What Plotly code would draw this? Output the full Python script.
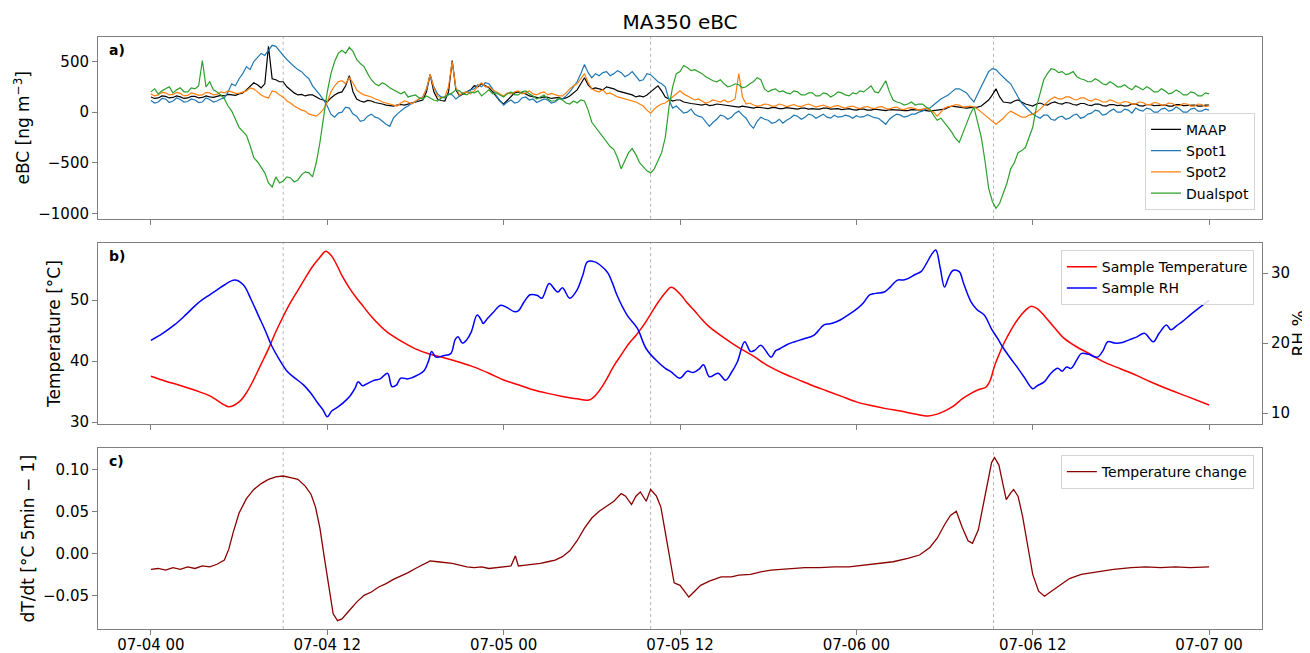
import pandas as pd
import plotly.graph_objects as go

START = "2024-07-04 00:00"
# eBC series, 15-min samples from 07-04 00:00 to 07-07 00:00 (12 values = 3 hours per row)
ebc_time = pd.date_range(START, periods=289, freq="15min")

maap = [150, 135, 140, 160, 155, 140, 145, 160, 150, 135, 140, 155,
        155, 140, 145, 160, 150, 145, 155, 165, 160, 175, 170, 165,
        180, 190, 220, 260, 290, 270, 240, 280, 650, 330, 320, 300,
        300, 250, 220, 190, 170, 175, 160, 170, 170, 150, 130, 120,
        100, 140, 170, 190, 200, 260, 360, 200, 130, 110, 100, 115,
        110, 95, 90, 80, 70, 65, 60, 70, 75, 70, 80, 90,
        100, 110, 120, 200, 370, 200, 130, 115, 110, 200, 510, 220,
        160, 180, 200, 220, 260, 250, 280, 260, 240, 200, 150, 110,
        80, 120, 150, 190, 200, 190, 180, 160, 150, 145, 140, 150,
        145, 135, 140, 145, 130, 140, 160, 190, 220, 280, 340, 270,
        230, 240, 230, 220, 250, 240, 230, 210, 200, 190, 180, 170,
        150, 160, 150, 170, 200, 230, 260, 210, 150, 130, 110, 120,
        120, 100, 90, 85, 80, 75, 70, 80, 65, 70, 80, 75,
        70, 60, 60, 55, 50, 60, 55, 45, 40, 50, 45, 40,
        35, 45, 45, 35, 35, 45, 40, 30, 30, 40, 40, 30,
        35, 30, 30, 40, 40, 30, 30, 35, 25, 30, 35, 25,
        20, 30, 30, 20, 20, 30, 25, 15, 15, 25, 25, 20,
        20, 15, 15, 25, 25, 20, 20, 15, 10, 15, 20, 25,
        30, 45, 60, 55, 50, 45, 40, 45, 45, 50, 60, 90,
        120, 170, 230, 150, 100, 95, 90, 110, 120, 100, 80, 70,
        60, 80, 90, 75, 70, 90, 100, 85, 80, 95, 90, 75,
        70, 85, 85, 70, 65, 80, 80, 65, 60, 75, 75, 65,
        70, 60, 65, 80, 80, 65, 60, 75, 75, 65, 65, 70,
        70, 60, 60, 75, 75, 65, 65, 70, 70, 60, 60, 70,
        70]

spot1 = [115, 90, 100, 135, 130, 95, 110, 140, 125, 100, 105, 130,
         120, 95, 100, 140, 125, 100, 110, 130, 140, 200, 280, 260,
         330, 380, 450, 420, 500, 540, 580, 560, 610, 660, 650, 600,
         560, 520, 480, 450, 420, 400, 360, 330, 260, 220, 170, 120,
         60, -20, -50, -10, 0, 50, 40, -20, -40, -90, -80, -40,
         -20, -50, -60, -90, -120, -140, -60, -20, 10, 40, 60, 90,
         100, 130, 150, 230, 370, 250, 180, 150, 140, 180, 170, 130,
         160, 190, 200, 220, 230, 270, 250, 290, 280, 230, 160, 110,
         70, 100, 120, 90, 100, 140, 150, 120, 130, 95, 110, 130,
         120, 90, 100, 130, 130, 160, 200, 250, 300, 380, 470, 390,
         340, 380, 360, 390, 400, 360, 380, 410, 390, 350, 370, 400,
         350, 310, 320, 380, 370, 330, 300, 280, 250, 120, 40, 60,
         20, -10, 0, 30, -20, -40, -50, -90, -140, -100, -70, -30,
         -40, -70, -50, -10, 10, -30, -60, -120, -160, -90, -50, -70,
         -80, -110, -100, -70, -110, -80, -60, -30, -40, -70, -50, -20,
         -30, -60, -40, -20, -50, -60, -30, -50, -45, -30, -40, -60,
         -35, -50, -45, -25, -40, -55, -60, -90, -120, -70, -40, -20,
         -30, -50, -40, -20, -20, 0, 10, 30, 40, 70, 100, 130,
         150, 170, 200, 230, 230, 210, 190, 140, 100, 180, 250, 330,
         400, 430, 420, 380, 340, 310, 280, 210, 150, 90, 50, 10,
         -20, -40, -60, -30, -30, -70, -80, -50, -40, -70, -60, -30,
         -20, -60, -50, -20, -10, 20, 10, -30, -20, 10, 30, 0,
         0, 30, 20, -10, 40, 20, 10, 40, 30, 0, 0, 30,
         40, 10, 20, 50, 30, 0, 0, 30, 40, 10, 10, 30,
         20]

spot2 = [180, 160, 170, 195, 190, 170, 175, 195, 185, 160, 165, 190,
         180, 165, 170, 195, 190, 170, 175, 200, 190, 210, 200, 185,
         185, 200, 210, 240, 230, 200, 170, 150, 140, 210, 200, 170,
         150, 110, 90, 60, 40, 20, 10, -20, -30, -40, -10, 30,
         100, 200, 260, 300, 310, 280, 340, 290, 220, 190, 170, 160,
         150, 130, 120, 100, 90, 80, 70, 60, 90, 110, 100, 80,
         110, 130, 150, 230, 370, 240, 160, 140, 150, 250, 500, 240,
         170, 190, 200, 180, 210, 260, 290, 250, 250, 220, 200, 180,
         160, 190, 180, 200, 210, 180, 190, 210, 180, 170, 190, 200,
         170, 185, 175, 160, 160, 190, 230, 260, 280, 330, 380, 290,
         230, 210, 200, 220, 180, 190, 170, 150, 140, 130, 120, 110,
         100, 80, 60, 20, -10, 30, 60, 80, 90, 120, 150, 180,
         210, 180, 160, 140, 120, 130, 110, 90, 100, 120, 110, 100,
         120, 100, 110, 130, 380, 150, 80, 90, 70, 60, 65, 80,
         75, 60, 60, 80, 70, 55, 65, 75, 60, 55, 70, 80,
         65, 50, 60, 70, 55, 45, 60, 65, 50, 40, 55, 60,
         45, 35, 50, 55, 40, 35, 50, 55, 35, 30, 45, 50,
         30, 25, 40, 45, 35, 20, 30, 40, 20, 0, -40, 0,
         40, 55, 60, 75, 70, 50, 55, 60, 50, 30, 0, -30,
         -60, -90, -120, -90, -60, -20, 10, -10, -30, -50, -50, -30,
         -20, 0, 30, 70, 100, 130, 150, 130, 130, 150, 150, 130,
         120, 140, 140, 120, 110, 130, 120, 100, 100, 120, 110, 90,
         90, 105, 100, 80, 80, 100, 95, 75, 75, 95, 90, 70,
         70, 90, 85, 65, 65, 85, 80, 60, 60, 80, 75, 55,
         65]

dualspot = [200, 230, 180, 210, 230, 250, 190, 220, 240, 200, 200, 240,
            230, 260, 510, 250, 300, 220, 200, 170, 130, 60, 10, -80,
            -150, -190, -230, -330, -450, -490, -540, -600, -700, -740, -640, -700,
            -680, -640, -650, -690, -670, -620, -590, -600, -640, -500, -300, -50,
            200, 380, 500, 580, 610, 580, 640, 600, 520, 480, 450, 380,
            320, 280, 260, 290, 270, 240, 220, 200, 180, 200, 150, 160,
            170, 140, 130, 160, 140, 120, 110, 140, 150, 170, 190, 220,
            210, 180, 170, 200, 190, 210, 160, 190, 220, 180, 190, 170,
            150, 180, 200, 170, 170, 200, 210, 180, 160, 130, 150, 170,
            130, 110, 110, 140, 120, 90, 80, 110, 90, 120, 110, 20,
            -100, -150, -200, -240, -300, -340, -370, -450, -560, -470, -400, -360,
            -420, -500, -540, -580, -600, -560, -480, -400, -250, 50, 250, 380,
            400, 460, 440, 410, 420, 400, 380, 350, 330, 310, 300, 320,
            280, 250, 260, 280, 270, 240, 250, 280, 300, 340, 320, 230,
            200, 220, 230, 200, 210, 190, 180, 210, 200, 170, 170, 190,
            190, 160, 160, 190, 180, 150, 170, 200, 190, 170, 160, 190,
            180, 210, 200, 230, 260, 200, 190, 250, 310, 200, 120, 100,
            90, 70, 80, 100, 70, 80, 80, 50, 30, -30, -80, -60,
            -100, -150, -200, -260, -300, -200, -100, -20, 50, -100, -250, -480,
            -750, -880, -950, -900, -800, -700, -560, -500, -400, -380, -350, -250,
            -150, 50, 200, 320, 380, 430, 420, 390, 400, 370, 380, 400,
            350, 330, 320, 300, 300, 330, 310, 280, 270, 300, 280, 250,
            250, 270, 240, 220, 260, 240, 220, 250, 230, 200, 200, 230,
            210, 180, 190, 220, 200, 170, 170, 200, 190, 160, 160, 190,
            180]

# Sample temperature (hours after start, degC)
temp_hours = [0, 1, 2, 3, 4, 5, 5.3, 6, 6.5, 7, 7.5, 8, 8.5, 9, 9.5, 10, 10.5, 11, 11.5, 11.9,
              12.3, 12.7, 13, 13.5, 14, 14.5, 15, 16, 17, 18, 19, 20, 21, 22, 23, 24, 25, 26,
              27, 28, 29, 29.8, 30.3, 30.7, 31, 31.5, 32, 32.5, 33, 33.5, 34, 34.5, 35, 35.4,
              36, 36.5, 37, 37.5, 38, 39, 40, 41, 42, 43, 44, 45, 46, 47, 48, 49, 50, 51, 52,
              52.9, 53.5, 54, 54.6, 55.2, 55.8, 56.3, 56.8, 57.1, 57.4, 57.8, 58.1, 58.5, 59,
              59.5, 59.9, 60.3, 60.8, 61.5, 62.1, 63, 63.7, 64.8, 66, 67.1, 68, 69.4, 70.5, 72]
temp_vals = [37.5, 36.7, 36.0, 35.2, 34.3, 32.8, 32.5, 33.3, 34.8, 37.0, 39.5, 42.0, 44.8, 47.3,
             49.6, 51.6, 53.6, 55.5, 57.0, 58.0, 57.2, 55.5, 54.0, 52.0, 50.3, 48.8, 47.3, 44.9,
             43.3, 42.0, 41.1, 40.5, 39.8, 39.0, 38.0, 36.9, 36.1, 35.3, 34.7, 34.2, 33.8, 33.6,
             34.5, 35.8, 37.0, 39.2, 41.0, 42.8, 44.2, 45.8, 47.7, 49.6, 51.2, 52.1, 51.0, 49.5,
             48.2, 46.8, 45.6, 43.8, 42.2, 40.8, 39.2, 38.0, 37.0, 36.0, 35.1, 34.2, 33.3, 32.7,
             32.2, 31.8, 31.3, 31.0, 31.3, 31.8, 32.6, 33.8, 34.7, 35.3, 35.7, 36.8, 39.2, 41.6,
             43.2, 45.0, 46.9, 48.3, 49.0, 48.6, 47.4, 45.4, 43.8, 42.3, 41.4, 39.9, 38.7, 37.6,
             36.6, 35.2, 34.2, 32.8]

# Sample RH (hours after start, %)
rh_hours = [0, 0.8, 1.6, 2.4, 3.2, 4, 4.5, 5, 5.7, 6.3, 6.8, 7.3, 7.8, 8.2, 8.7, 9.3, 9.8, 10.4,
            10.9, 11.3, 11.7, 12.0, 12.3, 12.8, 13.3, 13.6, 13.9, 14.1, 14.4, 14.7, 15.2, 15.6,
            16.1, 16.4, 16.7, 17.0, 17.5, 18.2, 18.6, 18.9, 19.1, 19.4, 19.9, 20.4, 20.7, 20.9,
            21.2, 21.5, 21.8, 22.2, 22.5, 22.6, 22.9, 23.3, 23.8, 24.3, 24.7, 25.0, 25.4, 25.8,
            26.3, 26.6, 27.1, 27.5, 27.7, 28.0, 28.5, 29.0, 29.4, 29.7, 30.2, 30.7, 31.1, 31.4,
            31.7, 32.4, 33.1, 33.7, 34.5, 35.0, 35.4, 36.0, 36.5, 36.9, 37.3, 37.6, 38.0, 38.6,
            39.1, 39.5, 39.9, 40.4, 40.8, 41.1, 41.5, 42.2, 42.5, 42.8, 43.3, 43.8, 44.4, 45.1,
            45.8, 46.3, 46.9, 47.5, 48.1, 48.5, 48.9, 49.3, 49.9, 50.3, 50.8, 51.2, 51.5, 52.0,
            52.4, 52.8, 53.1, 53.4, 53.7, 54.0, 54.3, 54.6, 55.0, 55.3, 55.8, 56.2, 56.7, 57.2,
            57.6, 58.0, 58.5, 59.0, 59.4, 60.0, 60.3, 60.8, 61.2, 61.7, 62.0, 62.3, 62.6, 63.0,
            63.3, 63.8, 64.4, 64.8, 65.1, 65.6, 66.1, 66.6, 67.1, 67.6, 68.2, 68.6, 69.1, 69.4,
            69.8, 70.2, 70.7, 71.3, 72]
rh_vals = [20.4, 21.4, 22.6, 24.1, 25.7, 26.9, 27.6, 28.3, 29.0, 28.3, 26.3, 24.0, 21.7, 19.7,
           17.8, 15.9, 15.0, 14.0, 12.8, 11.6, 10.5, 9.5, 10.3, 11.0, 11.9, 12.6, 13.6, 14.5,
           13.9, 14.2, 14.7, 14.9, 15.7, 13.8, 14.0, 15.0, 14.9, 15.5, 16.1, 17.5, 18.8, 18.0,
           18.2, 18.5, 20.5, 20.9, 20.0, 20.5, 21.6, 24.0, 23.2, 22.8, 23.5, 24.4, 25.4, 25.0,
           24.5, 24.6, 25.9, 26.9, 26.8, 26.4, 28.5, 27.6, 27.3, 27.9, 26.4, 27.6, 29.8, 31.6,
           31.6, 30.9, 30.0, 28.6, 26.9, 24.0, 22.1, 19.2, 17.3, 16.4, 15.9, 15.0, 16.0, 15.8,
           16.3, 16.9, 15.2, 15.7, 14.7, 15.8, 17.3, 20.2, 18.8, 19.0, 19.7, 18.0, 18.9, 19.2,
           19.8, 20.2, 20.6, 21.1, 22.6, 22.8, 23.3, 24.1, 25.0, 25.8, 26.9, 27.1, 27.3, 28.0,
           29.0, 29.0, 29.2, 29.8, 30.2, 31.5, 32.6, 33.3, 30.8, 28.0, 29.5, 30.4, 30.2, 28.5,
           25.9, 24.8, 24.0, 22.0, 20.7, 19.3, 17.8, 16.4, 15.2, 13.5, 13.9, 14.5, 15.6, 16.4,
           16.0, 16.6, 16.4, 17.6, 18.5, 18.4, 18.0, 19.0, 20.2, 20.0, 20.1, 20.5, 20.9, 21.4,
           20.2, 21.4, 22.6, 21.9, 22.5, 23.1, 24.0, 25.0, 26.1]

# Temperature change (hours after start, degC per 5 min)
dtdt_hours = [0, 0.5, 1, 1.5, 2, 2.5, 3, 3.5, 4, 4.5, 5, 5.3, 5.6, 6.0, 6.5, 7.0, 7.5, 8.0, 8.5,
              9.0, 9.5, 10.0, 10.5, 10.9, 11.2, 11.5, 11.8, 12.1, 12.4, 12.7, 13.0, 13.5, 14.0,
              14.5, 15.0, 15.5, 16.0, 16.5, 17.0, 17.5, 18.0, 18.5, 19.0, 19.5, 20.0, 20.5, 21,
              21.5, 22, 22.5, 23, 23.5, 24, 24.5, 24.8, 25.0, 25.5, 26, 26.5, 27, 27.5, 28, 28.5,
              29, 29.5, 30, 30.5, 31, 31.5, 32.0, 32.3, 32.7, 33.0, 33.3, 33.7, 34.0, 34.4, 34.7,
              35.0, 35.3, 35.6, 36.0, 36.3, 36.6, 37.0, 37.4, 38.0, 38.8, 39.5, 40.0, 40.8, 41.5,
              42.2, 42.9, 43.5, 44.5, 45.5, 46.5, 47.5, 48.5, 49.5, 50.5, 51.5, 52.3, 53.0, 53.5,
              54.0, 54.4, 54.8, 55.2, 55.6, 55.9, 56.3, 56.6, 56.9, 57.2, 57.4, 57.7, 58.0, 58.2,
              58.5, 58.7, 59.0, 59.3, 59.6, 60.0, 60.4, 60.8, 61.2, 61.9, 62.5, 63.3, 64.0, 64.6,
              65.5, 66.7, 67.7, 68.7, 69.7, 70.7, 72]
dtdt_vals = [-0.019, -0.018, -0.020, -0.017, -0.019, -0.016, -0.018, -0.015, -0.016, -0.013,
             -0.008, 0.005, 0.025, 0.048, 0.065, 0.076, 0.083, 0.088, 0.091, 0.092, 0.090, 0.088,
             0.080, 0.070, 0.055, 0.030, -0.005, -0.040, -0.072, -0.080, -0.078, -0.068, -0.058,
             -0.050, -0.046, -0.040, -0.036, -0.031, -0.027, -0.023, -0.018, -0.013, -0.009,
             -0.010, -0.011, -0.012, -0.014, -0.016, -0.017, -0.016, -0.018, -0.017, -0.016,
             -0.015, -0.003, -0.015, -0.014, -0.013, -0.012, -0.010, -0.008, -0.004, 0.003, 0.015,
             0.030, 0.042, 0.050, 0.056, 0.062, 0.071, 0.068, 0.058, 0.068, 0.073, 0.062, 0.076,
             0.068, 0.055, 0.025, -0.010, -0.035, -0.038, -0.045, -0.052, -0.045, -0.038, -0.033,
             -0.028, -0.028, -0.026, -0.025, -0.022, -0.020, -0.019, -0.018, -0.017, -0.017,
             -0.016, -0.016, -0.014, -0.012, -0.010, -0.006, -0.002, 0.007, 0.018, 0.034, 0.045,
             0.050, 0.031, 0.015, 0.012, 0.028, 0.055, 0.085, 0.108, 0.114, 0.105, 0.080, 0.064,
             0.072, 0.076, 0.068, 0.045, 0.015, -0.025, -0.045, -0.051, -0.046, -0.037, -0.030,
             -0.025, -0.023, -0.021, -0.019, -0.017, -0.016, -0.017, -0.016, -0.017, -0.016]

event_times = ["2024-07-04 09:00", "2024-07-05 10:00", "2024-07-06 09:20"]
x_range = ["2024-07-03 20:24", "2024-07-07 03:36"]

for s in (maap, spot1, spot2, dualspot):
    assert len(s) == len(ebc_time), len(s)
assert len(temp_hours) == len(temp_vals)
assert len(rh_hours) == len(rh_vals)
assert len(dtdt_hours) == len(dtdt_vals)


def to_time(hours):
    base = pd.Timestamp(START)
    return [base + pd.Timedelta(hours=h) for h in hours]


FONT = "DejaVu Sans"
SPINE = "#808080"
# the page body has an 8px margin, so the figure is 8px smaller than the 1310x653 window
W, H = 1302, 645
ML, MR = 90, 48

fig = go.Figure()
for name, vals, color in [("MAAP", maap, "black"), ("Spot1", spot1, "#1f77b4"),
                          ("Spot2", spot2, "#ff7f0e"), ("Dualspot", dualspot, "#2ca02c")]:
    fig.add_trace(go.Scatter(x=ebc_time, y=vals, name=name, mode="lines",
                             line=dict(color=color, width=1.2), xaxis="x", yaxis="y",
                             legend="legend"))

fig.add_trace(go.Scatter(x=to_time(temp_hours), y=temp_vals, name="Sample Temperature",
                         mode="lines", line=dict(color="red", width=1.5, shape="spline"),
                         xaxis="x2", yaxis="y2", legend="legend2"))
fig.add_trace(go.Scatter(x=to_time(rh_hours), y=rh_vals, name="Sample RH", mode="lines",
                         line=dict(color="blue", width=1.5, shape="spline"),
                         xaxis="x2", yaxis="y4", legend="legend2"))
fig.add_trace(go.Scatter(x=to_time(dtdt_hours), y=dtdt_vals, name="Temperature change",
                         mode="lines", line=dict(color="#8b0000", width=1.3),
                         xaxis="x3", yaxis="y3", legend="legend3"))

ax = dict(showline=True, linecolor=SPINE, linewidth=1, ticks="outside", ticklen=5,
          tickcolor=SPINE, showgrid=False, zeroline=False, automargin=False,
          tickfont=dict(size=15, color="black", family=FONT))
xax = dict(ax, mirror=True, type="date", range=x_range, tick0=START, dtick=43200000,
           tickformat="%m-%d %H")


def ttl(t, standoff=4):
    return dict(text=t, font=dict(size=17, color="black", family=FONT), standoff=standoff)


fig.update_layout(
    width=W, height=H,
    margin=dict(l=ML, r=MR, t=29, b=24),
    paper_bgcolor="white", plot_bgcolor="white",
    font=dict(family=FONT, color="black"),
    title=dict(text="MA350 eBC", x=0.5, xref="paper", y=1 - 14 / H, yanchor="middle",
               xanchor="center", font=dict(size=20, family=FONT, color="black")),
    xaxis=dict(xax, anchor="y", showticklabels=False),
    xaxis2=dict(xax, anchor="y2", matches="x", showticklabels=False),
    xaxis3=dict(xax, anchor="y3", matches="x", ticklabelstandoff=-3),
    yaxis=dict(ax, mirror=True, domain=[0.693, 1.0], range=[-1053, 742],
               tickvals=[-1000, -500, 0, 500], ticktext=["\u22121000", "\u2212500", "0", "500"],
               title=ttl("eBC [ng m<sup>\u22123</sup>]")),
    yaxis2=dict(ax, mirror=True, domain=[0.346, 0.652], range=[29.65, 59.35],
                tickvals=[30, 40, 50], title=ttl("Temperature [°C]")),
    yaxis4=dict(ax, overlaying="y2", side="right", anchor="x2", range=[8.43, 34.29],
                tickvals=[10, 20, 30]),
    yaxis3=dict(ax, mirror=True, domain=[0.0, 0.305], range=[-0.09, 0.1248],
                tickvals=[-0.05, 0, 0.05, 0.10], ticktext=["\u22120.05", "0.00", "0.05", "0.10"],
                title=ttl("dT/dt [°C 5min \u2212 1]")),
)

leg = dict(bgcolor="rgba(255,255,255,0.85)", bordercolor="#d5d5d5", borderwidth=1,
           font=dict(size=14, family=FONT, color="black"), xanchor="right")
fig.update_layout(
    legend=dict(leg, x=0.994, y=0.708, yanchor="bottom"),
    legend2=dict(leg, x=0.993, y=0.640, yanchor="top"),
    legend3=dict(leg, x=0.993, y=0.294, yanchor="top"),
)

shapes = []
for ev in event_times:
    for xr, yr in [("x", "y"), ("x2", "y2"), ("x3", "y3")]:
        shapes.append(dict(type="line", xref=xr, yref=f"{yr} domain", x0=ev, x1=ev, y0=0, y1=1,
                           line=dict(color="#b5b5b5", width=1, dash="dot"), layer="below"))
fig.update_layout(shapes=shapes)

for lab, xr, yr in [("a)", "x", "y"), ("b)", "x2", "y2"), ("c)", "x3", "y3")]:
    fig.add_annotation(text=f"<b>{lab}</b>", xref=f"{xr} domain", yref=f"{yr} domain",
                       x=0.008, y=0.985, xanchor="left", yanchor="top", showarrow=False,
                       font=dict(size=14, family=FONT, color="black"))

# right-hand axis title of panel b
fig.add_annotation(text="RH %", textangle=-90, xref="paper", yref="y2 domain",
                   x=(1291 - ML) / (W - ML - MR), y=0.5, xanchor="center", yanchor="middle",
                   showarrow=False, font=dict(size=17, family=FONT, color="black"))

fig.write_html("out.html")
